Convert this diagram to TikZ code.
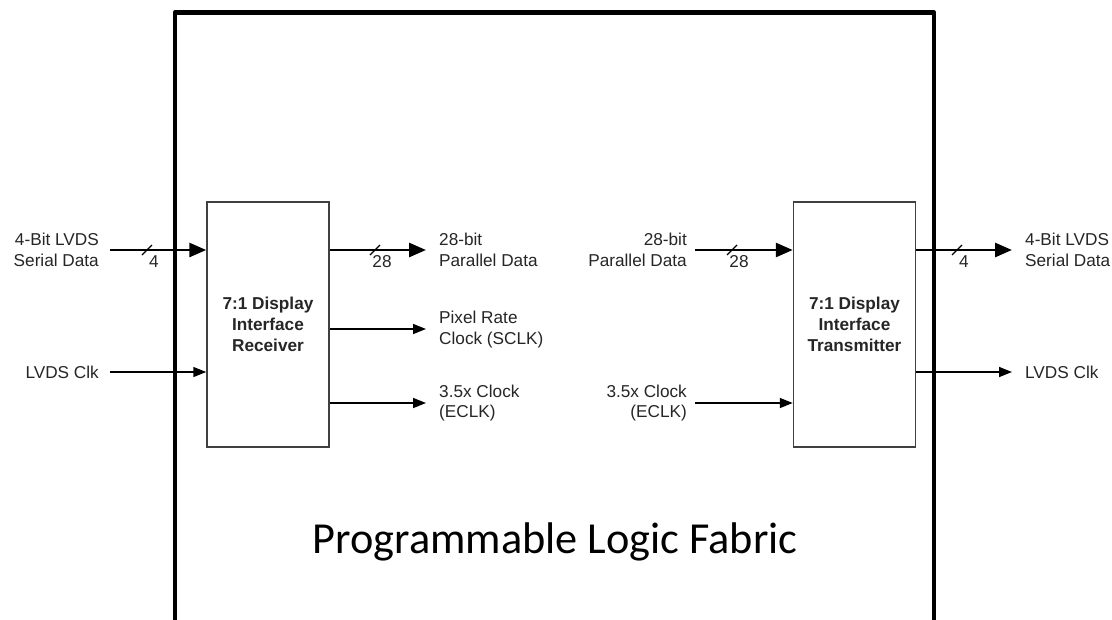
\documentclass[tikz,border=0pt]{standalone}
\usepackage{fontspec}
\setmainfont{Liberation Sans}
\newfontfamily\calfont{Carlito}
\usetikzlibrary{arrows.meta,positioning}
\newcommand{\busmark}[4]{% name, x, y, label
  \draw[line width=1.1pt] (#2-5,#3+5) -- (#2+5,#3-5);
  \node[lbl,anchor=center] (#1) at (#2+7,#3+12) {#4};
}
\tikzset{
  lbl/.style={font=\fontsize{17.2}{20.5}\selectfont, text=black!85, inner sep=0pt},
  blk/.style={draw=black!75, line width=1.5pt, minimum width=122pt, minimum height=245pt,
     inner sep=0pt, align=center, font=\fontsize{17.2}{21}\selectfont\bfseries, text=black!85},
  data/.style={line width=2.8pt, -{Triangle[length=17pt,width=14pt]}},
  clk/.style={line width=1.5pt, -{Triangle[length=13pt,width=10pt]}},
  frame/.style={line width=4.8pt, line join=round}
}
\begin{document}
\begin{tikzpicture}[x=1pt,y=-1pt]
\useasboundingbox (0,0) rectangle (1112,619);
\fill[white] (0,0) rectangle (1112,619);

% fabric frame
\draw[frame] (175,625) -- (175,12.5) -- (934,12.5) -- (934,625);
\node[font=\calfont\fontsize{44.3}{50}\selectfont, inner sep=0pt, anchor=base] (fab) at (555,553) {Programmable Logic Fabric};

% blocks
\node[blk] (rx) at (268,324.5) {7:1 Display\\Interface\\Receiver};
\node[blk] (tx) at (854.5,324.5) {7:1 Display\\Interface\\Transmitter};

% free ends
\coordinate (inD) at (110,250);
\coordinate (inC) at (110,372);
\coordinate (oD) at (426,250);
\coordinate (oP) at (426,329);
\coordinate (oE) at (426,403);
\coordinate (iD) at (695,250);
\coordinate (iE) at (695,403);
\coordinate (xD) at (1012,250);
\coordinate (xC) at (1012,372);

% labels
\node[lbl, anchor=east, align=right] (tinD) at (99,250) {4-Bit LVDS\\Serial Data};
\node[lbl, anchor=east, align=right] (tinC) at (99,372) {LVDS Clk};
\node[lbl, anchor=west, align=left] (toD) at (439,250) {28-bit\\Parallel Data};
\node[lbl, anchor=west, align=left] (toP) at (439,329.5) {Pixel Rate\\Clock (SCLK)};
\node[lbl, anchor=west, align=left] (toE) at (439,403) {3.5x Clock\\(ECLK)};
\node[lbl, anchor=east, align=right] (tiD) at (687,250) {28-bit\\Parallel Data};
\node[lbl, anchor=east, align=right] (tiE) at (687,403) {3.5x Clock\\(ECLK)};
\node[lbl, anchor=west, align=left] (txD) at (1025,250) {4-Bit LVDS\\Serial Data};
\node[lbl, anchor=west, align=left] (txC) at (1025,372) {LVDS Clk};

% connectors
\draw[data] (inD) -- (rx.west |- inD);
\draw[clk] (inC) -- (rx.west |- inC);
\draw[data] (rx.east |- oD) -- (oD);
\draw[clk] (rx.east |- oP) -- (oP);
\draw[clk] (rx.east |- oE) -- (oE);
\draw[data] (iD) -- (tx.west |- iD);
\draw[clk] (iE) -- (tx.west |- iE);
\draw[data] (tx.east |- xD) -- (xD);
\draw[clk] (tx.east |- xC) -- (xC);

% bus width marks
\busmark{b1}{147}{250}{4}
\busmark{b2}{375}{250}{28}
\busmark{b3}{732}{250}{28}
\busmark{b4}{957}{250}{4}
\end{tikzpicture}
\end{document}
